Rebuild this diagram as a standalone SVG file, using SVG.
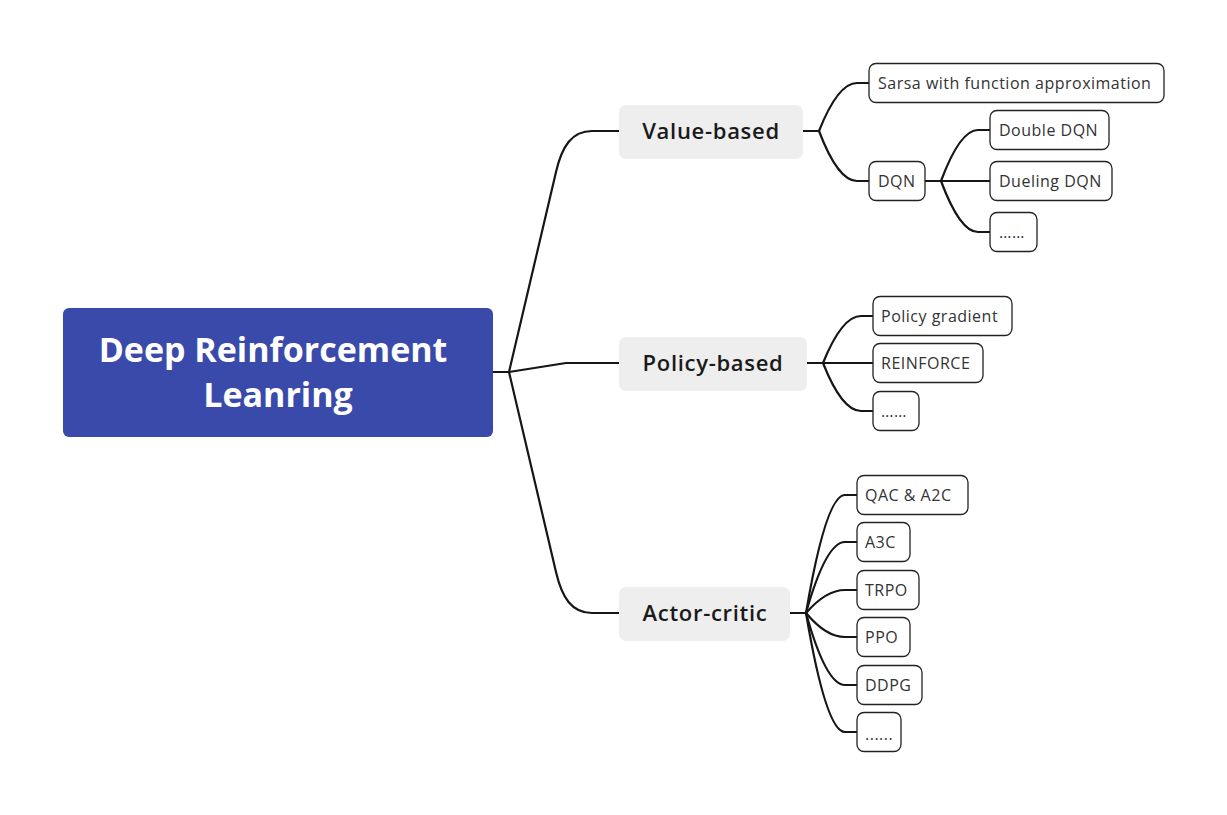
<svg xmlns="http://www.w3.org/2000/svg" width="1227" height="815" viewBox="0 0 1227 815">
<style>
.conn{fill:none;stroke:#161616;stroke-width:2.2;stroke-linejoin:round;stroke-linecap:round}
.leaf rect{fill:#ffffff;stroke:#222222;stroke-width:1.3}
.leaf text{font-family:"Open Sans","Liberation Sans",sans-serif;font-size:16px;letter-spacing:0.5px;fill:#333333}
.branch rect{fill:#eeeeee}
.branch text{font-family:"Open Sans","Liberation Sans",sans-serif;font-size:22px;letter-spacing:0.7px;font-weight:600;fill:#1a1a1a;text-anchor:middle}
.root rect{fill:#3a4aab}
.root text{font-family:"Open Sans","Liberation Sans",sans-serif;font-size:34px;font-weight:700;fill:#ffffff;text-anchor:middle}
</style>
<rect width="1227" height="815" fill="#ffffff"/>
<g id="connectors">
<path class="conn" d="M493 372 H509"/>
<path class="conn" d="M509 372 L556 172 C562 146 572 131 592 131 H619"/>
<path class="conn" d="M509 372 L566 363 H619"/>
<path class="conn" d="M509 372 L556 572 C562 598 572 613 592 613 H619"/>
<path class="conn" d="M803 131 H819"/>
<path class="conn" d="M819 131 Q838 83 857 83 H869"/>
<path class="conn" d="M819 131 Q838 181 857 181 H869"/>
<path class="conn" d="M925 181 H941"/>
<path class="conn" d="M941 181 Q960 130 978 130 H990"/>
<path class="conn" d="M941 181 H990"/>
<path class="conn" d="M941 181 Q960 232 978 232 H990"/>
<path class="conn" d="M807 363 H823"/>
<path class="conn" d="M823 363 Q842 316 861 316 H873"/>
<path class="conn" d="M823 363 H873"/>
<path class="conn" d="M823 363 Q842 411 861 411 H873"/>
<path class="conn" d="M790 613 H806"/>
<path class="conn" d="M806 613 Q826 495 845 495 H857"/>
<path class="conn" d="M806 613 Q826 542 845 542 H857"/>
<path class="conn" d="M806 613 Q826 590 845 590 H857"/>
<path class="conn" d="M806 613 Q826 637 845 637 H857"/>
<path class="conn" d="M806 613 Q826 685 845 685 H857"/>
<path class="conn" d="M806 613 Q826 732 845 732 H857"/>
</g>
<g id="root" class="root">
<rect x="63" y="308" width="430" height="129" rx="6"/>
<text x="273" y="362">Deep Reinforcement</text>
<text x="278" y="407">Leanring</text>
</g>
<g id="value-based" class="branch">
<rect x="619" y="105" width="184" height="54" rx="7"/>
<text x="711" y="139">Value-based</text>
</g>
<g id="policy-based" class="branch">
<rect x="619" y="337" width="188" height="54" rx="7"/>
<text x="713" y="371">Policy-based</text>
</g>
<g id="actor-critic" class="branch">
<rect x="619" y="587" width="171" height="54" rx="7"/>
<text x="705" y="621">Actor-critic</text>
</g>
<g id="sarsa" class="leaf">
<rect x="869" y="63.5" width="295" height="39" rx="7"/>
<text x="878" y="89">Sarsa with function approximation</text>
</g>
<g id="dqn" class="leaf">
<rect x="869" y="161.5" width="56" height="39" rx="7"/>
<text x="878" y="187">DQN</text>
</g>
<g id="double-dqn" class="leaf">
<rect x="990" y="110.5" width="119" height="39" rx="7"/>
<text x="999" y="136">Double DQN</text>
</g>
<g id="dueling-dqn" class="leaf">
<rect x="990" y="161.5" width="122" height="39" rx="7"/>
<text x="999" y="187">Dueling DQN</text>
</g>
<g id="dqn-more" class="leaf">
<rect x="990" y="212.5" width="47" height="39" rx="7"/>
<text x="999" y="238">……</text>
</g>
<g id="policy-gradient" class="leaf">
<rect x="873" y="296.5" width="139" height="39" rx="7"/>
<text x="881" y="322">Policy gradient</text>
</g>
<g id="reinforce" class="leaf">
<rect x="873" y="343.5" width="110" height="39" rx="7"/>
<text x="881" y="369">REINFORCE</text>
</g>
<g id="policy-more" class="leaf">
<rect x="873" y="391.5" width="46" height="39" rx="7"/>
<text x="881" y="417">……</text>
</g>
<g id="qac-a2c" class="leaf">
<rect x="857" y="475.5" width="111" height="39" rx="7"/>
<text x="865" y="501">QAC &amp; A2C</text>
</g>
<g id="a3c" class="leaf">
<rect x="857" y="522.5" width="53" height="39" rx="7"/>
<text x="865" y="548">A3C</text>
</g>
<g id="trpo" class="leaf">
<rect x="857" y="570.5" width="62" height="39" rx="7"/>
<text x="865" y="596">TRPO</text>
</g>
<g id="ppo" class="leaf">
<rect x="857" y="617.5" width="53" height="39" rx="7"/>
<text x="865" y="643">PPO</text>
</g>
<g id="ddpg" class="leaf">
<rect x="857" y="665.5" width="65" height="39" rx="7"/>
<text x="865" y="691">DDPG</text>
</g>
<g id="ac-more" class="leaf">
<rect x="857" y="712.5" width="44" height="39" rx="7"/>
<text x="865" y="740">......</text>
</g>
</svg>
